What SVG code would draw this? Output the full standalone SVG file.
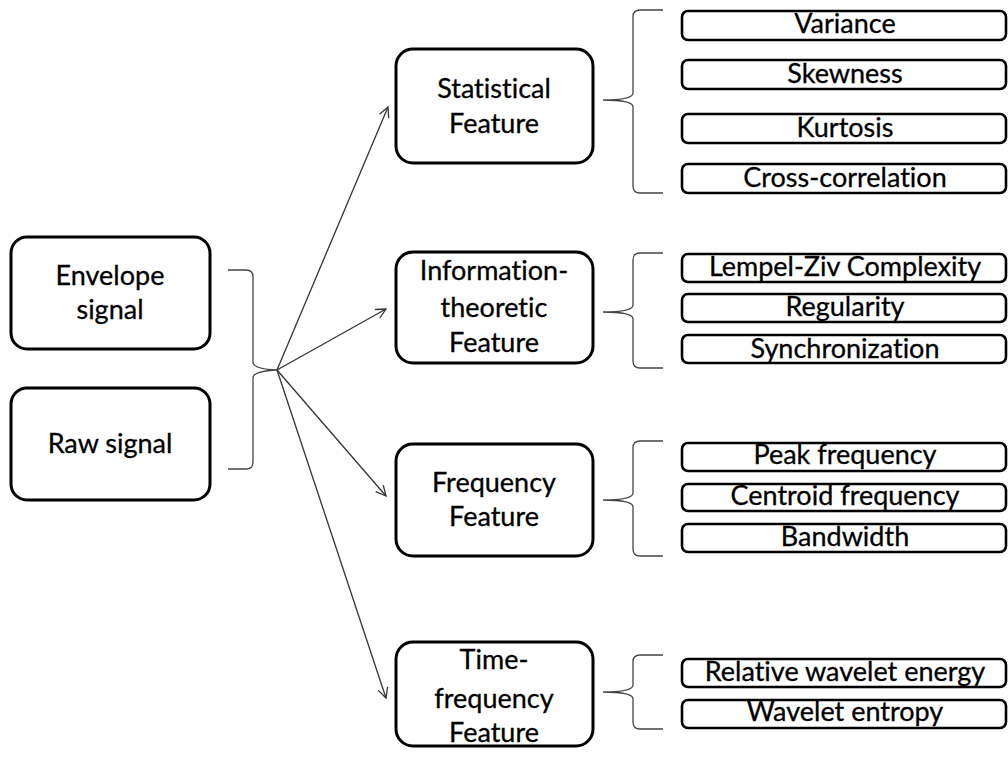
<svg xmlns="http://www.w3.org/2000/svg" width="1008" height="757" viewBox="0 0 1008 757">
  <style>
    .box { fill: #fff; stroke: #000; stroke-width: 3; }
    .item { fill: #fff; stroke: #000; stroke-width: 2.6; }
    .t { font-family: Lato, "Open Sans", sans-serif; font-size: 27px; font-variant-ligatures: none; fill: #000; stroke: #000; stroke-width: 0.3; text-anchor: middle; }
    .brace { fill: none; stroke: #444; stroke-width: 1.3; }
    .link { fill: none; stroke: #333; stroke-width: 1.3; marker-end: url(#arrow); }
  </style>
  <defs>
    <marker id="arrow" viewBox="0 0 12 12" refX="11" refY="6" markerWidth="12" markerHeight="12" markerUnits="userSpaceOnUse" orient="auto">
      <path d="M1,1 L11,6 L1,11" fill="none" stroke="#333" stroke-width="1.3"/>
    </marker>
  </defs>

  <!-- input signals -->
  <g id="envelope">
    <rect class="box" x="11" y="237" width="199" height="112" rx="16"/>
    <text class="t" x="110" y="285">Envelope</text>
    <text class="t" x="110" y="319">signal</text>
  </g>
  <g id="raw">
    <rect class="box" x="11" y="388" width="199" height="112" rx="16"/>
    <text class="t" x="110" y="453">Raw signal</text>
  </g>

  <!-- feature categories -->
  <g id="statistical">
    <rect class="box" x="396" y="49" width="197" height="114" rx="17"/>
    <text class="t" x="494" y="98">Statistical</text>
    <text class="t" x="494" y="133">Feature</text>
  </g>
  <g id="information">
    <rect class="box" x="396" y="252" width="197" height="111" rx="17"/>
    <text class="t" x="494" y="280">Information-</text>
    <text class="t" x="494" y="317">theoretic</text>
    <text class="t" x="494" y="352">Feature</text>
  </g>
  <g id="frequency">
    <rect class="box" x="396" y="444" width="197" height="112" rx="17"/>
    <text class="t" x="494" y="492">Frequency</text>
    <text class="t" x="494" y="526">Feature</text>
  </g>
  <g id="timefrequency">
    <rect class="box" x="396" y="642" width="197" height="104" rx="17"/>
    <text class="t" x="494" y="669">Time-</text>
    <text class="t" x="494" y="708">frequency</text>
    <text class="t" x="494" y="742">Feature</text>
  </g>

  <!-- individual features -->
  <g id="variance"><rect class="item" x="682" y="11" width="324" height="29" rx="6"/><text class="t" x="845" y="33">Variance</text></g>
  <g id="skewness"><rect class="item" x="682" y="60" width="324" height="29" rx="6"/><text class="t" x="845" y="83">Skewness</text></g>
  <g id="kurtosis"><rect class="item" x="682" y="114" width="324" height="29" rx="6"/><text class="t" x="845" y="137">Kurtosis</text></g>
  <g id="crosscorrelation"><rect class="item" x="682" y="164" width="324" height="29" rx="6"/><text class="t" x="845" y="187">Cross-correlation</text></g>

  <g id="lempelziv"><rect class="item" x="682" y="254" width="324" height="28" rx="6"/><text class="t" x="845" y="276">Lempel-Ziv Complexity</text></g>
  <g id="regularity"><rect class="item" x="682" y="294" width="324" height="28" rx="6"/><text class="t" x="845" y="316">Regularity</text></g>
  <g id="synchronization"><rect class="item" x="682" y="335" width="324" height="28" rx="6"/><text class="t" x="845" y="358">Synchronization</text></g>

  <g id="peak"><rect class="item" x="682" y="443" width="324" height="28" rx="6"/><text class="t" x="845" y="464">Peak frequency</text></g>
  <g id="centroid"><rect class="item" x="682" y="484" width="324" height="27" rx="6"/><text class="t" x="845" y="505">Centroid frequency</text></g>
  <g id="bandwidth"><rect class="item" x="682" y="524" width="324" height="28" rx="6"/><text class="t" x="845" y="546">Bandwidth</text></g>

  <g id="relativeenergy"><rect class="item" x="682" y="659" width="324" height="28" rx="6"/><text class="t" x="845" y="681">Relative wavelet energy</text></g>
  <g id="waveletentropy"><rect class="item" x="682" y="700" width="324" height="28" rx="6"/><text class="t" x="845" y="721">Wavelet entropy</text></g>

  <!-- connectors: braces and arrows -->
  <g id="connectors">
    <path class="brace" d="M228,270 L246,270 Q253,270 253,277 L253,362 Q253,369 277,370 Q253,371 253,378 L253,462 Q253,469 246,469 L228,469"/>
    <path class="brace" d="M663,10 L640,10 Q633,10 633,17 L633,93 Q633,100 603,100 Q633,100 633,107 L633,186 Q633,193 640,193 L663,193"/>
    <path class="brace" d="M663,253 L640,253 Q633,253 633,260 L633,305 Q633,312 603,312 Q633,312 633,319 L633,361 Q633,368 640,368 L663,368"/>
    <path class="brace" d="M663,441 L640,441 Q633,441 633,448 L633,493 Q633,500 603,500 Q633,500 633,507 L633,549 Q633,556 640,556 L663,556"/>
    <path class="brace" d="M663,655 L640,655 Q633,655 633,662 L633,685 Q633,692 603,692 Q633,692 633,699 L633,722 Q633,729 640,729 L663,729"/>
    <line class="link" x1="277" y1="370" x2="388" y2="107"/>
    <line class="link" x1="277" y1="370" x2="386" y2="309"/>
    <line class="link" x1="277" y1="370" x2="386" y2="496"/>
    <line class="link" x1="277" y1="370" x2="386" y2="698"/>
  </g>
</svg>
